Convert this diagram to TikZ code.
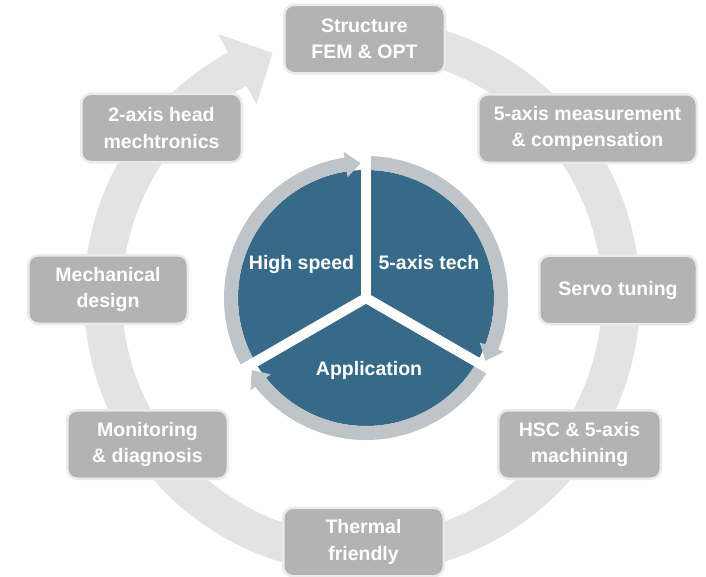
\documentclass[tikz,border=0pt]{standalone}
\usepackage{fontspec}
\setmainfont{Liberation Sans}
\definecolor{biglight}{HTML}{E3E3E3}
\definecolor{boxfill}{HTML}{B3B3B3}
\definecolor{boxedge}{HTML}{EAEAEA}
\definecolor{pieblue}{HTML}{376A89}
\definecolor{ringgray}{HTML}{BEC4C7}
\tikzset{
  box/.style={draw=boxedge, line width=2.5pt, fill=boxfill, rounded corners=10pt,
    minimum height=68.5pt, text=white, align=center, inner sep=0pt,
    font=\bfseries\fontsize{19.5}{26.5}\selectfont},
  pietext/.style={text=white, anchor=base, inner sep=0pt,
    font=\bfseries\fontsize{19.5}{26.5}\selectfont},
  gapline/.style={draw=white, line width=10pt}
}
\begin{document}
\begin{tikzpicture}[x=1pt,y=1pt]
\useasboundingbox (0,0) rectangle (706,-576);
\coordinate (C) at (362,-296);
\coordinate (c) at (366,-298);
% big circular arrow
\fill[biglight] ([shift={(C)}]90:278) arc[start angle=90,end angle=-241.2,radius=278]
  -- ([shift={(C)}]-241.2:299) -- ([shift={(C)}]-249.8:259) -- ([shift={(C)}]-241.2:219)
  -- ([shift={(C)}]-241.2:240) arc[start angle=-241.2,end angle=90,radius=240] -- cycle;
% boxes
\node[box, minimum width=160.5pt] (s1) at (364.5,-39) {Structure\\FEM \& OPT};
\node[box, minimum width=218.5pt] (s2) at (587.5,-128.5) {5-axis measurement\\\& compensation};
\node[box, minimum width=157.5pt] (s3) at (618,-290) {Servo tuning};
\node[box, minimum width=162.5pt] (s4) at (579.5,-444.5) {HSC \& 5-axis\\machining};
\node[box, minimum width=160.5pt] (s5) at (363.5,-542) {Thermal\\friendly};
\node[box, minimum width=160.5pt] (s6) at (147.5,-444.5) {Monitoring\\\& diagnosis};
\node[box, minimum width=159.5pt] (s7) at (108,-289.5) {Mechanical\\design};
\node[box, minimum width=160.5pt] (s8) at (161.5,-128) {2-axis head\\mechtronics};
% pie disc
\fill[pieblue] (c) circle[radius=128];
% inner ring arrows
\foreach \s/\e in {90/-21.3, -30/-141.3, -150/-261.3} {
  \fill[ringgray] ([shift={(c)}]\s:142) arc[start angle=\s,end angle=\e,radius=142]
    -- ([shift={(c)}]\e:148) -- ([shift={(c)}]\e-6.4:135) -- ([shift={(c)}]\e:122)
    -- ([shift={(c)}]\e:128) arc[start angle=\e,end angle=\s,radius=128] -- cycle;
}
% white gaps
\foreach \a in {90,210,330} {
  \draw[gapline] (c) -- ([shift={(c)}]\a:152);
}
% pie labels
\node[pietext] (t1) at (301.5,-269) {High speed};
\node[pietext] (t2) at (429,-269) {5-axis tech};
\node[pietext] (t3) at (369,-375.7) {Application};
\end{tikzpicture}
\end{document}
